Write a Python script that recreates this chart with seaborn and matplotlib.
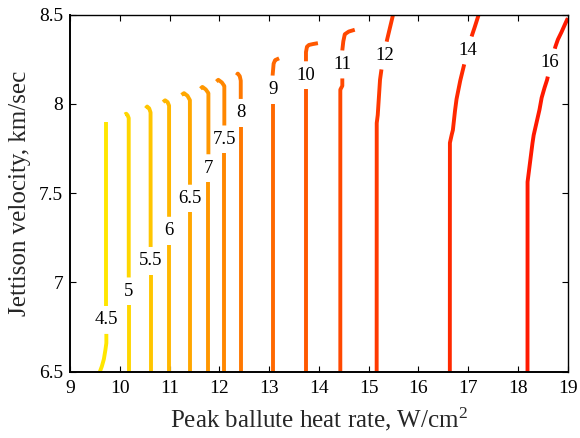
import numpy as np
import pandas as pd
import matplotlib
matplotlib.use("Agg")
import matplotlib.pyplot as plt
import seaborn as sns

# Contour levels of peak heat load and their traced paths
levels = [4.5, 5, 5.5, 6, 6.5, 7, 7.5, 8, 9, 10, 11, 12, 14, 16]
level_text = ["4.5", "5", "5.5", "6", "6.5", "7", "7.5", "8", "9", "10", "11", "12", "14", "16"]

heat_45 = [9.60, 9.64, 9.68, 9.71, 9.73, 9.73]
vel_45 = [6.50, 6.53, 6.57, 6.62, 6.66, 7.90]
heat_50 = [10.18, 10.18, 10.16, 10.13, 10.10]
vel_50 = [6.50, 7.92, 7.935, 7.945, 7.94]
heat_55 = [10.62, 10.62, 10.59, 10.55, 10.52]
vel_55 = [6.50, 7.95, 7.975, 7.985, 7.975]
heat_60 = [10.99, 10.99, 10.96, 10.91, 10.87]
vel_60 = [6.50, 7.99, 8.01, 8.02, 8.01]
heat_65 = [11.41, 11.41, 11.36, 11.29, 11.24]
vel_65 = [6.50, 8.02, 8.045, 8.06, 8.05]
heat_70 = [11.78, 11.78, 11.73, 11.66, 11.62]
vel_70 = [6.50, 8.06, 8.08, 8.095, 8.085]
heat_75 = [12.10, 12.10, 12.05, 11.98, 11.94]
vel_75 = [6.50, 8.10, 8.12, 8.135, 8.125]
heat_80 = [12.43, 12.43, 12.41, 12.37, 12.35]
vel_80 = [6.50, 8.13, 8.155, 8.17, 8.16]
heat_90 = [13.07, 13.07, 13.09, 13.12, 13.20]
vel_90 = [6.50, 8.16, 8.225, 8.245, 8.255]
heat_100 = [13.74, 13.74, 13.76, 13.80, 13.88, 13.98]
vel_100 = [6.50, 8.29, 8.32, 8.33, 8.335, 8.34]
heat_110 = [14.43, 14.43, 14.47, 14.47, 14.49, 14.52, 14.60, 14.72]
vel_110 = [6.50, 8.08, 8.10, 8.30, 8.35, 8.39, 8.405, 8.415]
heat_120 = [15.16, 15.16, 15.18, 15.20, 15.22, 15.26, 15.31, 15.37, 15.43, 15.49]
vel_120 = [6.50, 7.89, 7.93, 8.02, 8.12, 8.20, 8.28, 8.36, 8.43, 8.50]
heat_140 = [16.63, 16.63, 16.66, 16.69, 16.72, 16.76, 16.83, 16.91, 16.98, 17.07, 17.13, 17.21]
vel_140 = [6.50, 7.78, 7.82, 7.85, 7.93, 8.02, 8.12, 8.21, 8.30, 8.38, 8.43, 8.50]
heat_160 = [18.19, 18.19, 18.23, 18.27, 18.31, 18.36, 18.42, 18.47, 18.52, 18.58,
            18.66, 18.75, 18.80, 18.87, 18.95, 19.00]
vel_160 = [6.50, 7.56, 7.65, 7.74, 7.82, 7.88, 7.95, 8.03, 8.08, 8.13,
           8.23, 8.32, 8.36, 8.40, 8.45, 8.48]

paths_heat = [heat_45, heat_50, heat_55, heat_60, heat_65, heat_70, heat_75,
              heat_80, heat_90, heat_100, heat_110, heat_120, heat_140, heat_160]
paths_vel = [vel_45, vel_50, vel_55, vel_60, vel_65, vel_70, vel_75,
             vel_80, vel_90, vel_100, vel_110, vel_120, vel_140, vel_160]

# Inline label anchors (on each contour)
label_heat = [9.73, 10.18, 10.62, 10.99, 11.41, 11.78, 12.10, 12.43, 13.07, 13.74,
              14.47, 15.32, 17.00, 18.64]
label_vel = [6.79, 6.95, 7.12, 7.29, 7.47, 7.64, 7.80, 7.95, 8.08, 8.16,
             8.22, 8.27, 8.30, 8.23]

x_ticks = list(range(9, 20))
y_ticks = [6.5, 7, 7.5, 8, 8.5]
y_tick_labels = ["6.5", "7", "7.5", "8", "8.5"]

sns.set_style("ticks")
plt.rcParams["font.family"] = ["Liberation Serif", "DejaVu Serif"]
plt.rcParams["mathtext.default"] = "regular"

# Colours follow the autumn map, yellow at the lowest level to red at the highest
n = len(levels)
cmap = plt.get_cmap("autumn")
palette = {lv: cmap(0.9 - 0.8 * i / (n - 1)) for i, lv in enumerate(levels)}

# Break each path where its inline label sits
GAP = 0.077
rows = []
for lv, hx, vy, ly in zip(levels, paths_heat, paths_vel, label_vel):
    hx = np.asarray(hx, float)
    vy = np.asarray(vy, float)
    seg = np.hypot(np.diff(hx) * 50, np.diff(vy) * 178)
    s = np.concatenate([[0], np.cumsum(seg)])
    ss = np.linspace(0, s[-1], 800)
    xs = np.interp(ss, s, hx)
    ys = np.interp(ss, s, vy)
    keep = np.abs(ys - ly) >= GAP
    part = np.cumsum(np.concatenate([[1], np.abs(np.diff(keep.astype(int)))]))
    for x, y, k, p in zip(xs, ys, keep, part):
        if k:
            rows.append((lv, f"{lv}-{p}", x, y))
df = pd.DataFrame(rows, columns=["level", "piece", "heat", "vel"])

fig, ax = plt.subplots(figsize=(5.8, 4.38), dpi=100)
fig.subplots_adjust(left=0.1207, right=0.979, bottom=0.1514, top=0.9667)

sns.lineplot(data=df, x="heat", y="vel", hue="level", units="piece",
             estimator=None, sort=False, palette=palette, linewidth=2.8,
             legend=False, ax=ax, solid_capstyle="butt")

for txt, lx, ly in zip(level_text, label_heat, label_vel):
    ax.text(lx, ly, txt, ha="center", va="center", fontsize=13.5, color="black")

ax.set_xlim(9, 19)
ax.set_ylim(6.5, 8.5)
ax.set_xticks(x_ticks)
ax.set_xticklabels([str(t) for t in x_ticks])
ax.set_yticks(y_ticks)
ax.set_yticklabels(y_tick_labels)
ax.tick_params(direction="in", length=4, width=0.8, top=True, right=True,
               labelsize=14, colors="black")
ax.tick_params(axis="x", pad=6)
ax.tick_params(axis="y", pad=5)
for sp in ax.spines.values():
    sp.set_visible(True)
    sp.set_linewidth(1.0)
    sp.set_color("black")
ax.spines["left"].set_linewidth(1.4)
ax.spines["bottom"].set_linewidth(1.4)

ax.set_xlabel("Peak ballute heat rate, W/cm$^{2}$", fontsize=18, labelpad=6)
ax.set_ylabel("Jettison velocity, km/sec", fontsize=18, labelpad=6)

fig.savefig("out.png", dpi=100)
